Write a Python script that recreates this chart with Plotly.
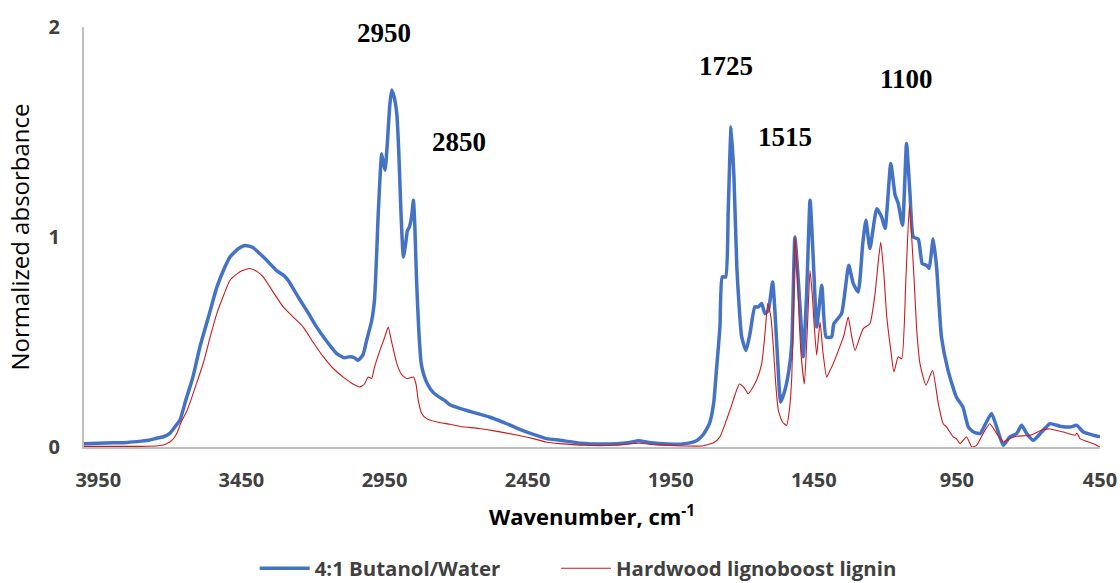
import plotly.graph_objects as go

# ---- data ----
blue_wn = [4000, 3950, 3900, 3850, 3800, 3770, 3746, 3720, 3700, 3680, 3665, 3645, 3620, 3595, 3565, 3536,
           3510, 3490, 3460, 3437, 3410, 3385, 3355, 3327, 3300, 3285, 3265, 3245, 3215, 3187, 3150, 3117,
           3090, 3071, 3055, 3042, 3025, 3012, 2995, 2985, 2978, 2972, 2965, 2960, 2954, 2948, 2940, 2932,
           2925, 2917, 2907, 2900, 2892, 2884, 2876, 2870, 2863, 2855, 2849, 2844, 2838, 2830, 2822, 2814,
           2800, 2780, 2756, 2740, 2720, 2684, 2640, 2584, 2530, 2484, 2430, 2384, 2337, 2262, 2188, 2100,
           2062, 2020, 1963, 1900, 1860, 1838, 1815, 1800, 1790, 1778, 1770, 1758, 1749, 1739, 1729, 1719,
           1710, 1702, 1687, 1673, 1656, 1644, 1632, 1621, 1609, 1594, 1586, 1575, 1566, 1551, 1537, 1527,
           1516, 1505, 1495, 1487, 1475, 1463, 1449, 1440, 1422, 1407, 1388, 1380, 1353, 1328, 1312, 1295,
           1279, 1268, 1254, 1230, 1213, 1201, 1181, 1166, 1155, 1140, 1126, 1114, 1102, 1085, 1071, 1056,
           1047, 1033, 1021, 1004, 981, 952, 929, 910, 890, 869, 850, 829, 811, 788, 765, 741,
           724, 706, 683, 654, 625, 590, 555, 531, 508, 473, 450]
blue_abs = [0.015, 0.018, 0.020, 0.022, 0.028, 0.033, 0.042, 0.050, 0.065, 0.100, 0.127, 0.220, 0.330, 0.476, 0.620, 0.760,
            0.850, 0.905, 0.945, 0.960, 0.950, 0.920, 0.880, 0.840, 0.815, 0.790, 0.745, 0.700, 0.635, 0.571, 0.500, 0.445,
            0.425, 0.430, 0.425, 0.413, 0.440, 0.510, 0.600, 0.700, 0.900, 1.110, 1.300, 1.397, 1.350, 1.318, 1.450, 1.620,
            1.700, 1.670, 1.587, 1.400, 1.100, 0.905, 0.970, 1.030, 1.048, 1.100, 1.175, 1.050, 0.794, 0.550, 0.400, 0.350,
            0.300, 0.260, 0.235, 0.222, 0.200, 0.183, 0.165, 0.143, 0.115, 0.088, 0.060, 0.040, 0.032, 0.018, 0.014, 0.020,
            0.030, 0.020, 0.014, 0.016, 0.030, 0.056, 0.110, 0.207, 0.370, 0.571, 0.810, 0.810, 1.127, 1.524, 1.286, 0.857,
            0.650, 0.524, 0.460, 0.540, 0.667, 0.667, 0.683, 0.635, 0.651, 0.786, 0.651, 0.380, 0.214, 0.270, 0.365, 0.490,
            1.000, 0.810, 0.600, 0.430, 0.730, 1.175, 0.810, 0.571, 0.770, 0.524, 0.524, 0.587, 0.635, 0.865, 0.778, 0.738,
            0.968, 1.080, 0.945, 1.135, 1.095, 1.040, 1.350, 1.200, 1.160, 1.056, 1.445, 1.207, 1.000, 0.990, 0.873, 0.865,
            0.850, 0.990, 0.857, 0.524, 0.365, 0.238, 0.190, 0.095, 0.070, 0.064, 0.110, 0.160, 0.095, 0.008, 0.048, 0.064,
            0.103, 0.064, 0.032, 0.071, 0.111, 0.099, 0.095, 0.103, 0.071, 0.056, 0.048]

red_wn = [4000, 3800, 3740, 3711, 3690, 3676, 3660, 3641, 3630, 3610, 3583, 3560, 3536, 3510, 3490, 3455,
          3420, 3395, 3374, 3340, 3304, 3270, 3234, 3200, 3164, 3130, 3094, 3060, 3036, 3020, 3007, 2995,
          2985, 2966, 2950, 2937, 2925, 2907, 2890, 2872, 2860, 2849, 2840, 2832, 2820, 2803, 2770, 2721,
          2684, 2620, 2571, 2484, 2430, 2386, 2337, 2250, 2150, 2062, 2000, 1900, 1840, 1800, 1778, 1760,
          1743, 1725, 1710, 1695, 1679, 1665, 1650, 1632, 1620, 1611, 1600, 1592, 1583, 1574, 1560, 1545,
          1535, 1527, 1520, 1516, 1510, 1505, 1495, 1483, 1473, 1463, 1455, 1449, 1440, 1434, 1428, 1418,
          1405, 1395, 1382, 1364, 1345, 1330, 1318, 1306, 1290, 1277, 1254, 1236, 1225, 1216, 1205, 1195,
          1180, 1170, 1155, 1143, 1128, 1116, 1108, 1100, 1090, 1079, 1058, 1035, 1015, 998, 986, 963,
          952, 939, 916, 898, 881, 860, 835, 811, 788, 765, 741, 695, 648, 625, 578, 537,
          531, 520, 473, 450]
red_abs = [0.003, 0.003, 0.006, 0.016, 0.035, 0.064, 0.120, 0.170, 0.210, 0.290, 0.400, 0.520, 0.635, 0.730, 0.794, 0.835,
           0.850, 0.835, 0.810, 0.740, 0.667, 0.620, 0.571, 0.500, 0.430, 0.375, 0.333, 0.300, 0.286, 0.300, 0.333, 0.326,
           0.380, 0.460, 0.520, 0.571, 0.500, 0.397, 0.345, 0.326, 0.330, 0.333, 0.300, 0.222, 0.160, 0.135, 0.120, 0.108,
           0.098, 0.088, 0.078, 0.056, 0.040, 0.024, 0.016, 0.008, 0.008, 0.018, 0.010, 0.005, 0.005, 0.020, 0.048, 0.110,
           0.175, 0.250, 0.300, 0.285, 0.254, 0.280, 0.318, 0.397, 0.550, 0.683, 0.620, 0.490, 0.300, 0.175, 0.120, 0.103,
           0.180, 0.333, 0.700, 1.000, 0.880, 0.730, 0.450, 0.300, 0.550, 0.840, 0.720, 0.587, 0.437, 0.520, 0.595, 0.450,
           0.333, 0.360, 0.397, 0.460, 0.530, 0.619, 0.530, 0.460, 0.520, 0.564, 0.587, 0.730, 0.880, 0.976, 0.820, 0.619,
           0.450, 0.357, 0.430, 0.420, 0.810, 1.150, 1.000, 0.810, 0.550, 0.397, 0.294, 0.365, 0.207, 0.111, 0.095, 0.048,
           0.040, 0.016, 0.048, 0.000, 0.008, 0.060, 0.111, 0.064, 0.024, 0.040, 0.051, 0.056, 0.083, 0.086, 0.071, 0.056,
           0.067, 0.040, 0.016, 0.000]

series_names = ["4:1 Butanol/Water", "Hardwood lignoboost lignin"]
x_ticks = [3950, 3450, 2950, 2450, 1950, 1450, 950, 450]
y_ticks = [0, 1, 2]
peak_labels = ["2950", "2850", "1725", "1515", "1100"]
peak_label_x = [2952, 2690, 1757, 1551, 1126]
peak_label_y = [1.97, 1.451, 1.813, 1.475, 1.751]

SANS = "Open Sans"
GREY = "#404040"
legend_font = dict(family=SANS, size=20.4, color=GREY, weight="bold")

fig = go.Figure()
fig.add_trace(go.Scatter(x=blue_wn, y=blue_abs, mode="lines", name=series_names[0], legend="legend",
                         line=dict(color="#4472C4", width=3.5, shape="spline", smoothing=0.5)))
fig.add_trace(go.Scatter(x=red_wn, y=red_abs, mode="lines", name=series_names[1], legend="legend2",
                         line=dict(color="#CC1A1A", width=1.1, shape="spline", smoothing=0.5)))

for txt, xv, yv in zip(peak_labels, peak_label_x, peak_label_y):
    fig.add_annotation(x=xv, y=yv, xref="x", yref="y", text=txt, showarrow=False,
                       xanchor="center", yanchor="middle",
                       font=dict(family="Liberation Serif", size=27, color="#000000", weight="bold"))

fig.update_layout(
    width=1120, height=583,
    margin=dict(l=84, r=20, t=27, b=136, autoexpand=False),
    paper_bgcolor="white", plot_bgcolor="white",
    showlegend=True,
    legend=dict(orientation="h", xref="container", x=0.2274, xanchor="left",
                yref="container", y=0.025, yanchor="middle",
                font=legend_font, bgcolor="rgba(0,0,0,0)", itemwidth=50),
    legend2=dict(orientation="h", xref="container", x=0.4964, xanchor="left",
                 yref="container", y=0.025, yanchor="middle",
                 font=legend_font, bgcolor="rgba(0,0,0,0)", itemwidth=50),
    xaxis=dict(range=[4000, 450], tickmode="array", tickvals=x_ticks,
               ticktext=[str(v) for v in x_ticks],
               showgrid=False, zeroline=False, showline=True, linecolor="#BFBFBF", linewidth=2,
               ticks="", ticklabelstandoff=14, automargin=False,
               tickfont=dict(family=SANS, size=20, color=GREY, weight="bold"),
               title=dict(text="Wavenumber, cm<sup>-1</sup>", standoff=18,
                          font=dict(family=SANS, size=22, color="#000000", weight="bold"))),
    yaxis=dict(range=[0, 2], tickmode="array", tickvals=y_ticks,
               showgrid=False, zeroline=False, showline=True, linecolor="#BFBFBF", linewidth=2,
               ticks="", ticklabelstandoff=18, automargin=False,
               tickfont=dict(family=SANS, size=20, color=GREY, weight="bold"),
               title=dict(text="Normalized absorbance", standoff=12,
                          font=dict(family=SANS, size=24, color="#000000"))),
)

fig.write_html("out.html")
